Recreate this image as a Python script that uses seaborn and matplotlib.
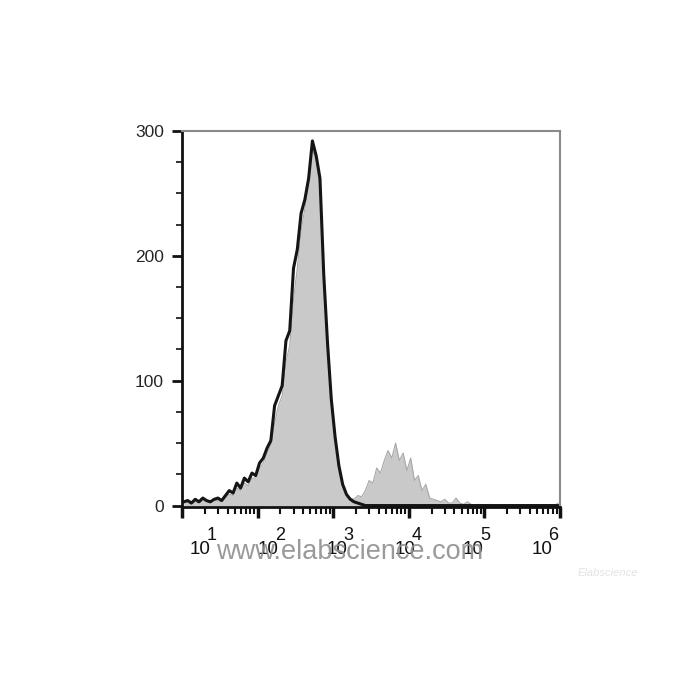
import matplotlib
matplotlib.use("Agg")
import matplotlib.pyplot as plt
import matplotlib.ticker as mtick
import numpy as np
import pandas as pd
import seaborn as sns

# bin centres in log10 units (0.05 decade bins from 10^1 to 10^6)
log_start = 1.025
log_step = 0.05

# stained sample (gray filled histogram), read bin by bin
gray_counts = [2, 3, 1, 3, 2, 4, 3, 2, 4, 4,
               3, 6, 9, 8, 14, 12, 18, 16, 22, 22,
               30, 34, 42, 48, 66, 80, 88, 115, 128, 165,
               190, 220, 238, 258, 285, 278, 255, 190, 125, 88,
               55, 30, 16, 9, 6, 5, 8, 7, 12, 20,
               18, 30, 26, 36, 44, 38, 50, 36, 42, 28,
               38, 20, 24, 12, 17, 6, 5, 4, 3, 5,
               2, 2, 6, 2, 1, 3, 1, 0, 1, 0,
               0, 1, 0, 0, 0, 0, 0, 0, 0, 0,
               0, 0, 0, 0, 0, 0, 0, 0, 0, 2]

# control / unstained (black outline histogram)
black_counts = [3, 4, 2, 5, 3, 6, 4, 3, 5, 6,
                4, 8, 12, 10, 18, 14, 22, 19, 26, 24,
                34, 38, 46, 52, 80, 88, 96, 132, 140, 190,
                205, 234, 245, 262, 292, 280, 262, 185, 130, 85,
                55, 32, 17, 9, 5, 3, 2, 1, 0, 0,
                0, 0, 0, 0, 0, 0, 0, 0, 0, 0,
                0, 0, 0, 0, 0, 0, 0, 0, 0, 0,
                0, 0, 0, 0, 0, 0, 0, 0, 0, 0,
                0, 0, 0, 0, 0, 0, 0, 0, 0, 0,
                0, 0, 0, 0, 0, 0, 0, 0, 0, 0]

y_ticks = [0, 100, 200, 300]
x_tick_exponents = ['1', '2', '3', '4', '5', '6']

log_centers = log_start + log_step * np.arange(len(gray_counts))
df = pd.DataFrame({'fl': 10 ** log_centers, 'gray': gray_counts, 'black': black_counts})

sns.set_style("ticks")
plt.rcParams['font.family'] = ['Liberation Sans', 'DejaVu Sans']

fig = plt.figure(figsize=(7, 7), dpi=100)
ax = fig.add_axes([0.26, 0.276, 0.54, 0.537])

ax.fill_between(df['fl'], 0, df['gray'], color='#c9c9c9', lw=0)
sns.lineplot(data=df, x='fl', y='gray', ax=ax, color='#a8a8a8', lw=0.8)
sns.lineplot(data=df, x='fl', y='black', ax=ax, color='#151515', lw=2.2)

ax.set_xscale('log')
ax.set_xlim(10, 10 ** 6)
ax.set_ylim(-1, 300)
ax.set_xlabel('')
ax.set_ylabel('')

ax.xaxis.set_major_locator(mtick.LogLocator(base=10, numticks=10))
ax.xaxis.set_minor_locator(mtick.LogLocator(base=10, subs=np.arange(2, 10), numticks=20))
ax.xaxis.set_major_formatter(mtick.NullFormatter())
ax.xaxis.set_minor_formatter(mtick.NullFormatter())
ax.set_yticks(y_ticks)
ax.yaxis.set_minor_locator(mtick.MultipleLocator(25))
ax.tick_params(axis='y', which='major', length=7, width=2, labelsize=12.5, pad=6, color='#111111')
ax.tick_params(axis='y', which='minor', length=4, width=1.2, color='#111111')
ax.tick_params(axis='x', which='major', length=8, width=2.5, color='#111111')
ax.tick_params(axis='x', which='minor', length=5, width=1.5, color='#111111')

for side in ['left', 'bottom']:
    ax.spines[side].set_color('#111111')
    ax.spines[side].set_linewidth(2)
for side in ['top', 'right']:
    ax.spines[side].set_visible(True)
    ax.spines[side].set_color('#8a8a8a')
    ax.spines[side].set_linewidth(1.5)

# decade labels sit a bit off their ticks in the original, "10" with a raised exponent
for i, ex in enumerate(x_tick_exponents):
    xc = 0.048 + 0.1807 * i
    ax.text(xc, -0.113, '10', transform=ax.transAxes,
            ha='center', va='center', fontsize=13.5, color='#111111')
    ax.text(xc + 0.031, -0.077, ex, transform=ax.transAxes,
            ha='center', va='center', fontsize=13, color='#111111')

fig.text(0.5, 0.211, 'www.elabscience.com', ha='center', va='center',
         fontsize=19.5, color='#8f8f8f', alpha=0.9)
fig.text(0.869, 0.181, 'Elabscience', ha='center', va='center',
         fontsize=8, color='#e3e3e3', style='italic')

fig.savefig('out.png', dpi=100, facecolor='white')
